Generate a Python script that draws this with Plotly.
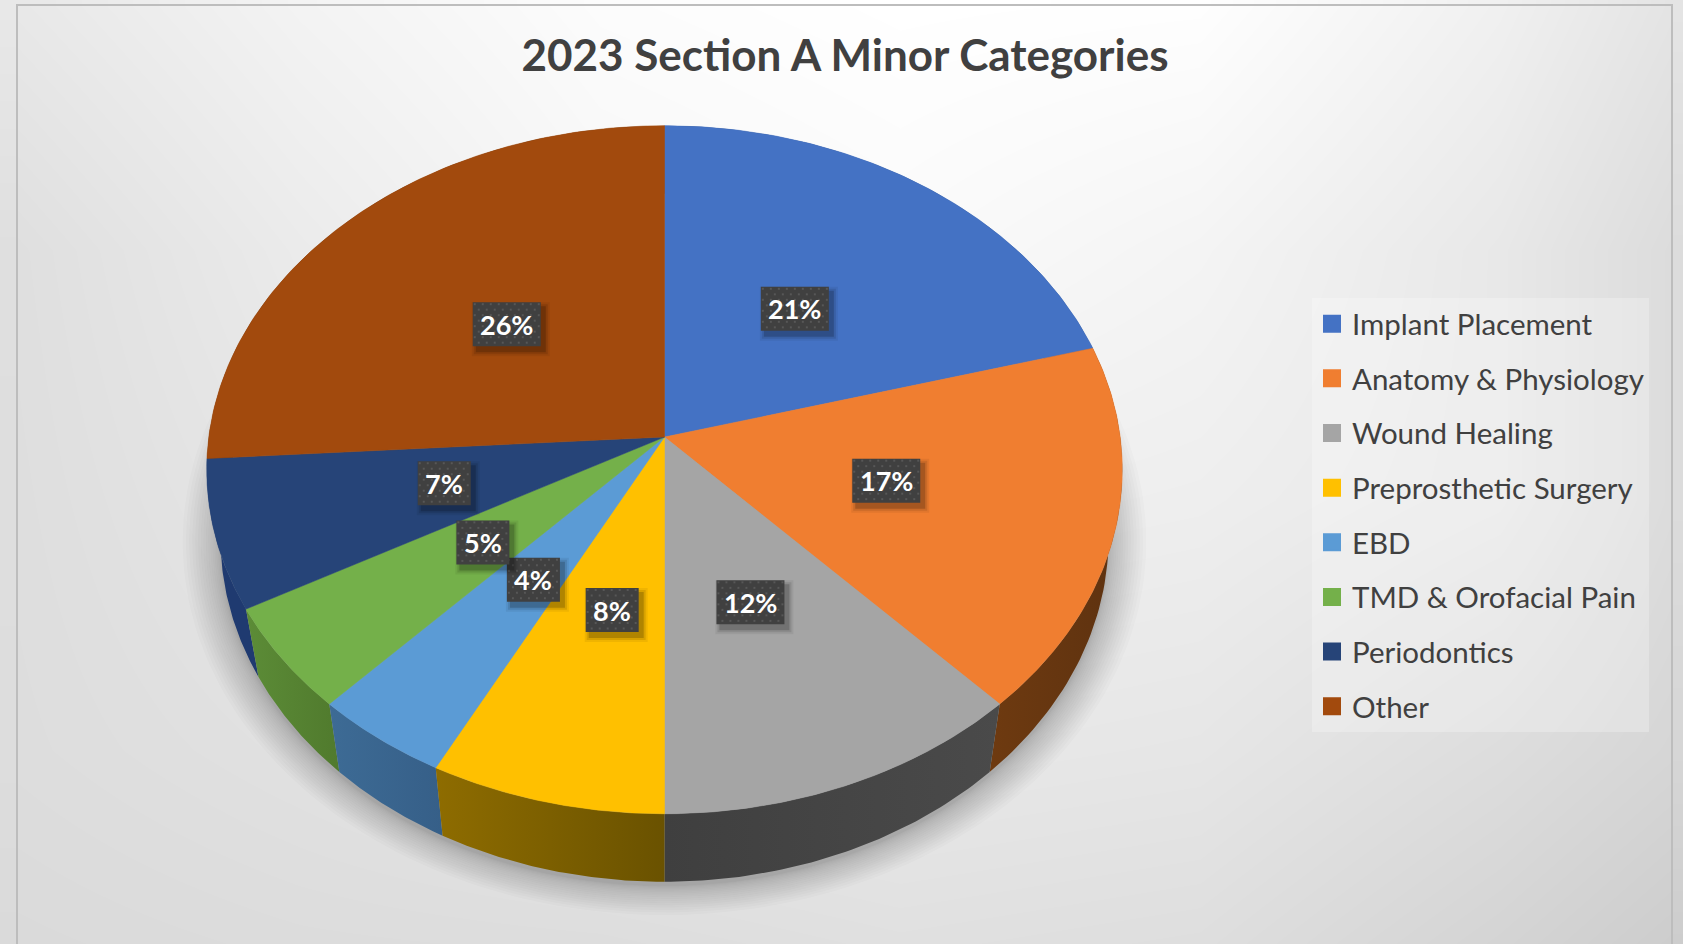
import numpy as np
import plotly.graph_objects as go

# ---- data ----
categories = ["Implant Placement", "Anatomy & Physiology", "Wound Healing", "Preprosthetic Surgery",
              "EBD", "TMD & Orofacial Pain", "Periodontics", "Other"]
values = [20.7, 17.3, 12.0, 7.6, 4.4, 5.0, 7.0, 26.0]
percent_labels = ["21%", "17%", "12%", "8%", "4%", "5%", "7%", "26%"]
top_colors = ["#4472C4", "#F07E30", "#A5A5A5", "#FFC000", "#5B9BD5", "#74B04A", "#264478", "#A24A0D"]
wall_left = ["#2f5088", "#6e3a10", "#3f3f3f", "#8e6c00", "#3d6b95", "#5c8c37", "#1f3a70", "#6a3510"]
wall_right = ["#2f5088", "#5e3210", "#4a4a4a", "#6a5200", "#365f88", "#507a2d", "#1f3a70", "#6a3510"]

title_text = "2023 Section A Minor Categories"

# background grey levels read across the panel
bg_x = [17, 300, 600, 900, 1200, 1500, 1672]
bg_y = [6, 250, 500, 750, 944]
bg_grey = [
    [232, 243, 252, 255, 254, 240, 228],
    [223, 235, 246, 250, 244, 232, 220],
    [222, 230, 238, 240, 238, 232, 220],
    [221, 225, 230, 232, 230, 221, 214],
    [218, 220, 221, 224, 222, 212, 205],
]

# small nudges of the data labels, in pixels
label_dx = [0, 4, 0, 3, 3, 0, -3, 0]
label_dy = [0, -2, 3, 3, 1, 0, -1, -2]

# ---- projection of the tilted disc onto the page ----
CX, CY = 664.5, 437.0
A, B, K = 455.7, 340.9, 0.0952
DEPTH, RIM_X = 68.0, 0.97


def project(frac, radius=1.0):
    """frac = share of the pie measured clockwise from 12 o'clock."""
    th = 2 * np.pi * np.asarray(frac, dtype=float)
    u, v = radius * np.sin(th), radius * np.cos(th)
    d = 1 + K * v
    return CX + A * u / d, CY - B * v / d


def rim(frac):
    x, y = project(frac)
    return CX + (x - CX) * RIM_X, y + DEPTH


cum = np.concatenate([[0], np.cumsum(values)]) / sum(values)

fig = go.Figure()
fig.add_trace(go.Heatmap(x=bg_x, y=bg_y, z=bg_grey, zsmooth="best", zmin=0, zmax=255,
                         colorscale=[[0, "#000000"], [1, "#ffffff"]], showscale=False,
                         hoverinfo="skip"))

# soft shadow under the pie: growing copies of the lower rim
t = np.linspace(0, 1, 240)
rx, ry = rim(t)
ry_mid = (ry.min() + ry.max()) / 2
for q in np.linspace(1.0, 0.0, 18):
    s = 1 + 0.085 * q ** 1.5
    fig.add_trace(go.Scatter(x=CX + (rx - CX) * s, y=ry_mid + 4 + (ry - ry_mid) * s, mode="lines", fill="toself",
                             line_width=0, fillcolor="rgba(50,50,50,0.02)", hoverinfo="skip", showlegend=False))

# side walls, back to front
mid = (cum[:-1] + cum[1:]) / 2
order = np.argsort(-np.abs(mid - 0.5))
for i in order:
    f = np.linspace(cum[i], cum[i + 1], 60)
    xt, yt = project(f)
    xb, yb = rim(f)
    fig.add_trace(go.Scatter(
        x=np.concatenate([xt, xb[::-1], xt[:1]]), y=np.concatenate([yt, yb[::-1], yt[:1]]),
        mode="lines", fill="toself", line=dict(width=0), hoverinfo="skip", showlegend=False,
        fillgradient=dict(type="horizontal", colorscale=[[0, wall_left[i]], [1, wall_right[i]]])))

# top faces
for i in range(len(values)):
    f = np.linspace(cum[i], cum[i + 1], 120)
    xt, yt = project(f)
    fig.add_trace(go.Scatter(
        x=np.concatenate([[CX], xt, [CX]]), y=np.concatenate([[CY], yt, [CY]]),
        mode="lines", fill="toself", line=dict(width=0.5, color=top_colors[i]),
        fillcolor=top_colors[i], name=categories[i], hoverinfo="name", showlegend=False))

# data labels (dark boxes with a shadow and dotted texture)
BH = 44.0
lx, ly = project(mid, 0.49)
for cx, cy, txt, ddx, ddy in zip(lx, ly, percent_labels, label_dx, label_dy):
    cx, cy = cx + ddx, cy + ddy
    BW = 53.0 if len(txt) == 2 else 68.0
    for grow, alpha in [(5, 0.06), (3, 0.10), (1, 0.18)]:
        x0, x1, y0, y1 = cx - BW/2 + 4 - grow, cx + BW/2 + 4 + grow, cy - BH/2 + 5 - grow, cy + BH/2 + 5 + grow
        fig.add_trace(go.Scatter(x=[x0, x1, x1, x0, x0], y=[y0, y0, y1, y1, y0], mode="lines", fill="toself",
                                 line_width=0, fillcolor=f"rgba(0,0,0,{alpha})", hoverinfo="skip", showlegend=False))
    x0, x1, y0, y1 = cx - BW/2, cx + BW/2, cy - BH/2, cy + BH/2
    fig.add_trace(go.Scatter(x=[x0, x1, x1, x0, x0], y=[y0, y0, y1, y1, y0], mode="lines", fill="toself",
                             line_width=0, fillcolor="#404040", hoverinfo="skip", showlegend=False))
    gx, gy = [], []
    for r, yy in enumerate(np.arange(y0 + 2, y1, 5.5)):
        for xx in np.arange(x0 + 2 + (r % 2) * 4, x1 - 1, 8):
            gx.append(xx)
            gy.append(yy)
    fig.add_trace(go.Scatter(x=gx, y=gy, mode="markers", marker=dict(symbol="square", size=2, color="#575757"),
                             hoverinfo="skip", showlegend=False))
    fig.add_annotation(x=cx, y=cy, text=f"<b>{txt}</b>", showarrow=False, xanchor="center", yanchor="middle",
                       font=dict(family="Lato", size=27, color="#ffffff"))

# legend entries
for i, name in enumerate(categories):
    fig.add_trace(go.Scatter(x=[None], y=[None], mode="markers", name=name, legendgroup=name,
                             marker=dict(symbol="square", size=16, color=top_colors[i],
                                         line=dict(width=2, color=top_colors[i]))))

fig.update_layout(
    width=1683, height=944, margin=dict(l=0, r=0, t=0, b=0),
    paper_bgcolor="#ffffff", plot_bgcolor="#ffffff",
    xaxis=dict(range=[0, 1683], visible=False, fixedrange=True),
    yaxis=dict(range=[944, 0], visible=False, fixedrange=True),
    title=dict(text=f"<b>{title_text}</b>", x=845 / 1683, xanchor="center", y=1 - 56 / 944, yanchor="middle",
               font=dict(family="Lato", size=44, color="#404040")),
    legend=dict(x=1312 / 1683, y=1 - 298 / 944, xanchor="left", yanchor="top",
                bgcolor="rgba(255,255,255,0.25)", borderwidth=0, tracegroupgap=13.3,
                entrywidth=314, entrywidthmode="pixels",
                font=dict(family="Lato", size=29.5, color="#404040"), itemclick=False, itemdoubleclick=False),
    shapes=[dict(type="rect", xref="x", yref="y", x0=17, x1=1672, y0=5, y1=960,
                 line=dict(color="#bdbdbd", width=2), fillcolor="rgba(0,0,0,0)")],
)

fig.write_html("out.html", post_script="document.body.style.margin='0';",
               config=dict(displayModeBar=False))
